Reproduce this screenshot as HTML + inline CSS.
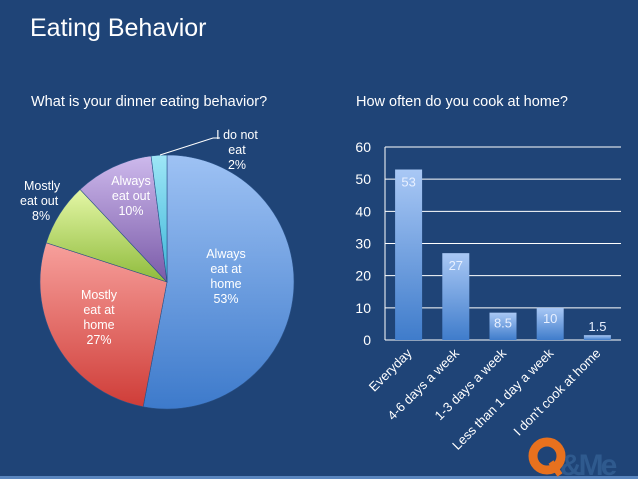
<!DOCTYPE html>
<html><head><meta charset="utf-8"><style>
body{margin:0;background:#1f4477;}
svg{display:block;font-family:"Liberation Sans",sans-serif;}
</style></head><body>
<svg width="638" height="479">
<defs>
<linearGradient id="gBar" x1="0" y1="0" x2="0" y2="1"><stop offset="0" stop-color="#a9c8f5"/><stop offset="1" stop-color="#3f7ccb"/></linearGradient>
<linearGradient id="gBlue" x1="0" y1="0" x2="0" y2="1"><stop offset="0" stop-color="#9ec2f4"/><stop offset="1" stop-color="#3d7acb"/></linearGradient>
<linearGradient id="gRed" x1="0" y1="0" x2="0" y2="1"><stop offset="0" stop-color="#f7a09c"/><stop offset="1" stop-color="#cf3d38"/></linearGradient>
<linearGradient id="gGreen" x1="0" y1="0" x2="0" y2="1"><stop offset="0" stop-color="#e4f7a6"/><stop offset="1" stop-color="#8fbb3c"/></linearGradient>
<linearGradient id="gPurple" x1="0" y1="0" x2="0" y2="1"><stop offset="0" stop-color="#cdb9ec"/><stop offset="1" stop-color="#7a5aa8"/></linearGradient>
<linearGradient id="gCyan" x1="0" y1="0" x2="0" y2="1"><stop offset="0" stop-color="#9ee6f6"/><stop offset="1" stop-color="#3cb5d8"/></linearGradient>
</defs>
<rect width="638" height="479" fill="#1f4477"/>
<rect y="476" width="638" height="3" fill="#5a86bf"/>
<text x="30" y="36" font-size="25" fill="#fff">Eating Behavior</text>
<text x="31" y="106" font-size="14.5" fill="#fff">What is your dinner eating behavior?</text>
<text x="356" y="106" font-size="14.5" fill="#fff">How often do you cook at home?</text>
<g id="pie"></g>
<g id="bar"></g>
<g>
<circle cx="547" cy="456" r="14" fill="none" stroke="#e8711e" stroke-width="9"/>
<line x1="551" y1="462" x2="560" y2="475" stroke="#e8711e" stroke-width="6"/>
<text x="560" y="475" font-size="30" font-weight="bold" fill="#2f5a8e" letter-spacing="-3">&amp;Me</text>
</g>
</svg>
<script>
const pieLabels=["Always eat at home","Mostly eat at home","Mostly eat out","Always eat out","I do not eat"];
const pieValues=[53,27,8,10,2];
const pieFills=["url(#gBlue)","url(#gRed)","url(#gGreen)","url(#gPurple)","url(#gCyan)"];
const barCategories=["Everyday","4-6 days a week","1-3 days a week","Less than 1 day a week","I don't cook at home"];
const barValues=[53,27,8.5,10,1.5];
const yTicks=[0,10,20,30,40,50,60];
const NS="http://www.w3.org/2000/svg";
function mk(t,a,p){const e=document.createElementNS(NS,t);for(const k in a)e.setAttribute(k,a[k]);p.appendChild(e);return e;}
// pie
const pie=document.getElementById('pie');
const cx=167,cy=282,r=127;
const total=pieValues.reduce((a,b)=>a+b,0);
let ang=0;
const labelPos=[[226,258],[99,299],[20,190],[131,185],[237,139]];
const labelLines=[["Always","eat at","home","53%"],["Mostly","eat at","home","27%"],["Mostly","eat out","8%"],["Always","eat out","10%"],["I do not","eat","2%"]];
pieValues.forEach((v,i)=>{
  const a0=ang, a1=ang+v/total*2*Math.PI; ang=a1;
  const x0=cx+r*Math.sin(a0),y0=cy-r*Math.cos(a0),x1=cx+r*Math.sin(a1),y1=cy-r*Math.cos(a1);
  const p=mk('path',{d:`M${cx},${cy}L${x0},${y0}A${r},${r} 0 ${a1-a0>Math.PI?1:0} 1 ${x1},${y1}Z`,fill:pieFills[i],stroke:'#2a5288','stroke-width':0.6},pie);
  
  
  const [lx,ly]=labelPos[i];
  const lines=labelLines[i].slice(0,-1).concat([v+'%']);
  const t=mk('text',{x:lx,y:ly,'font-size':12.5,fill:'#fff','text-anchor':i==2?'start':'middle'},pie);
  
  
  lines.forEach((s,j)=>{const ts=mk('tspan',{x:i==2?lx:lx,dx:i==2?(j==2?12:j==1?0:4):0,dy:j?15:0},t);ts.textContent=s;});
});
const ld=mk('polyline',{points:'160,155 213,138 220,138',fill:'none',stroke:'#fff','stroke-width':1},pie);


// bar
const bar=document.getElementById('bar');
const x0=385,x1=621,yb=340,yt=147,ymax=60;
const ys=v=>yb-(v/ymax)*(yb-yt);
const bw=(x1-x0)/barCategories.length;
yTicks.forEach(t=>{
  const l=mk('line',{x1:x0,x2:x1,y1:ys(t),y2:ys(t),stroke:'#fff','stroke-width':1},bar);
  
  
  const tx=mk('text',{x:371,y:ys(t)+5,'font-size':14,fill:'#fff','text-anchor':'end'},bar);
  tx.textContent=t;
  
  
});
const ax=mk('line',{x1:x0,x2:x0,y1:yt,y2:yb,stroke:'#fff','stroke-width':1},bar);


barCategories.forEach((c,i)=>{
  const cxb=x0+bw*(i+0.5),v=barValues[i];
  const b=mk('rect',{x:cxb-13.5,y:ys(v),width:27,height:yb-ys(v),fill:'url(#gBar)'},bar);
  
  
  const vy=v>20?ys(v)+17:ys(v)-4+ (v<5?0:15);
  const vt=mk('text',{x:cxb,y:v>5?ys(v)+(v>20?17:15):ys(v)-4,'font-size':13,fill:'#e8f0ff','text-anchor':'middle'},bar);
  vt.textContent=v;
  
  
  const ct=mk('text',{x:cxb+4,y:yb+14,'font-size':13,fill:'#fff','text-anchor':'end',transform:`rotate(-45 ${cxb+4} ${yb+14})`},bar);
  ct.textContent=c;
  
  
});
</script>
</body></html>
